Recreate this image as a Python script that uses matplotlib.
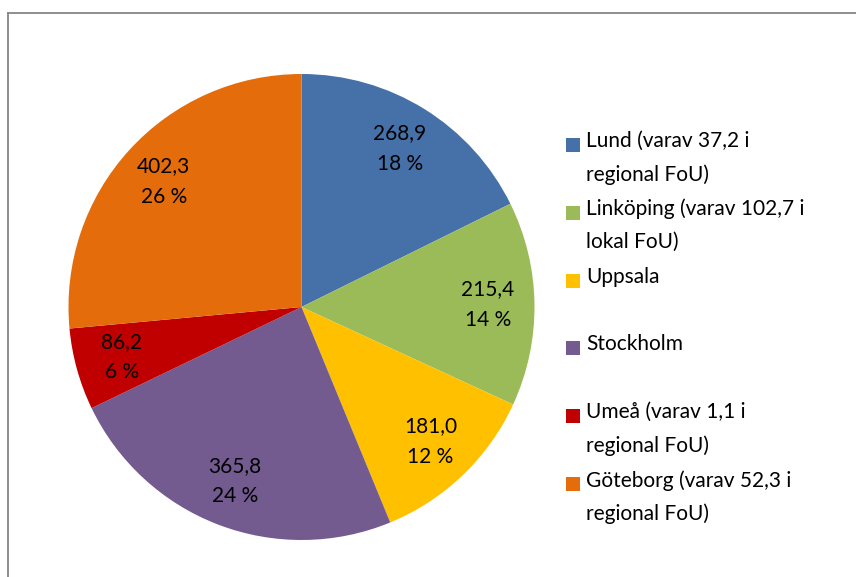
import matplotlib.pyplot as plt
from matplotlib.patches import Rectangle
from matplotlib.lines import Line2D

plt.rcParams['font.family'] = ['Lato', 'DejaVu Sans']

cities = ['Lund (varav 37,2 i\nregional FoU)',
          'Linköping (varav 102,7 i\nlokal FoU)',
          'Uppsala',
          'Stockholm',
          'Umeå (varav 1,1 i\nregional FoU)',
          'Göteborg (varav 52,3 i\nregional FoU)']
values = [268.9, 215.4, 181.0, 365.8, 86.2, 402.3]
colors = ['#4571A8', '#9BBB59', '#FFC000', '#735A8F', '#C00000', '#E46C0A']

W, H = 856, 577
fig = plt.figure(figsize=(W / 100, H / 100), dpi=100)

# pie centre and radius in pixels
cx, cy, r = 301.5, 307, 233
ax = fig.add_axes([(cx - r) / W, 1 - (cy + r) / H, 2 * r / W, 2 * r / H])

total = sum(values)


def fmt(pct):
    v = pct * total / 100
    return f"{v:.1f}".replace('.', ',') + f"\n{round(pct):.0f} %"


wedges, texts, autotexts = ax.pie(values, colors=colors, startangle=90, counterclock=False,
                                  autopct=fmt, pctdistance=0.8, radius=1,
                                  textprops=dict(fontsize=15, color='black', linespacing=1.65))
ax.set_xlim(-1, 1)
ax.set_ylim(-1, 1)
ax.set_aspect('equal')

# chart frame (left and top edges visible)
fig.add_artist(Line2D([8 / W, 8 / W], [0, 1 - 13 / H], color='#868686', lw=1.3,
                      transform=fig.transFigure))
fig.add_artist(Line2D([8 / W, 1], [1 - 13 / H, 1 - 13 / H], color='#868686', lw=1.3,
                      transform=fig.transFigure))

# legend, drawn by hand
for i, (name, col) in enumerate(zip(cities, colors)):
    y = 145 + i * 67.8
    fig.add_artist(Rectangle((566 / W, 1 - (y + 7) / H), 14 / W, 14 / H,
                             facecolor=col, edgecolor='none', transform=fig.transFigure))
    fig.text(586 / W, 1 - (y - 14) / H, name, fontsize=15, va='top', ha='left',
             linespacing=1.8)

fig.savefig('out.png', dpi=100)
